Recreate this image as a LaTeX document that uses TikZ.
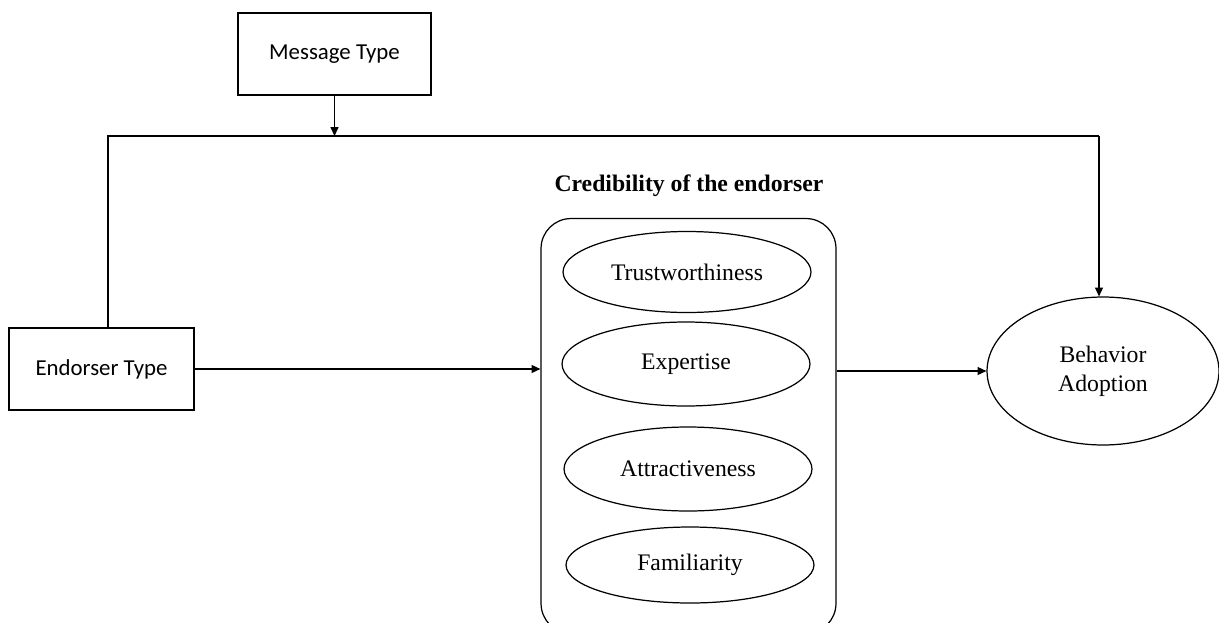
\documentclass[tikz,border=0pt]{standalone}
\usepackage{fontspec}
\setmainfont{Liberation Serif}
\newfontfamily\calibri{Carlito}
\usepackage{tikz}
\usetikzlibrary{arrows.meta, positioning, shapes.geometric, calc}

\begin{document}
\begin{tikzpicture}[
    x=0.02cm, y=-0.02cm,
    font=\fontsize{13.5}{16.5}\selectfont,
    varbox/.style={rectangle, draw=black, line width=0.7pt, minimum height=1.64cm, inner sep=0pt, font=\calibri\fontsize{13}{15}\selectfont},
    dimension/.style={ellipse, draw=black, line width=0.7pt, minimum width=4.96cm, minimum height=1.62cm, inner sep=0pt},
    outcome/.style={ellipse, draw=black, line width=0.7pt, minimum width=4.64cm, minimum height=2.96cm, inner sep=0pt, align=center},
    path/.style={-{Triangle[length=5pt, width=4.5pt]}, line width=0.7pt},
    link/.style={line width=0.7pt}
]
    \useasboundingbox (0,0) rectangle (1219,622);

    % Variables
    \node[varbox, minimum width=3.86cm] (message) at (334.5,54) {Message Type};
    \node[varbox, minimum width=3.7cm] (endorser) at (101.5,369) {Endorser Type};
    \node[outcome] (behavior) at (1103,371) {Behavior\\Adoption};

    % Credibility construct
    \node[rectangle, draw=black, line width=0.7pt, rounded corners=0.6cm, minimum width=5.9cm, minimum height=8.3cm, inner sep=0pt] (cred) at (688.5,426) {};
    \node[font=\bfseries\fontsize{13.5}{16}\selectfont] (credtitle) at (689,186) {Credibility of the endorser};
    \node[dimension] (trust) at (687,272) {Trustworthiness};
    \node[dimension, minimum height=1.68cm] (expert) at (686,364) {Expertise};
    \node[dimension, minimum height=1.68cm] (attract) at (688,469) {Attractiveness};
    \node[dimension, minimum height=1.52cm] (famil) at (690,565) {Familiarity};

    % Moderation line
    \coordinate (joinL) at (108,136);
    \coordinate (joinR) at (1099,136);
    \draw[link] (endorser.north -| joinL) -- (joinL) -- (joinR);
    \draw[path] (joinR) -- (joinR |- behavior.north);
    \draw[path] (message.south) -- (message.south |- joinL);

    % Main paths
    \draw[path] (endorser.east) -- (endorser.east -| cred.west);
    \draw[path] (cred.east |- behavior.west) -- (behavior.west);
\end{tikzpicture}
\end{document}
